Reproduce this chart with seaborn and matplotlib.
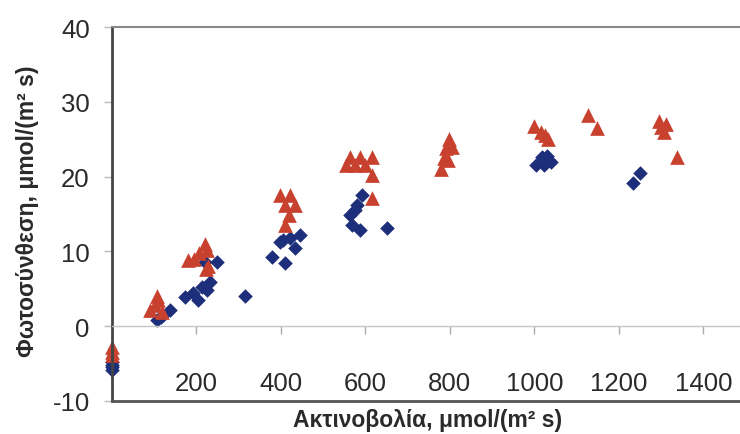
import matplotlib
matplotlib.use('Agg')
import pandas as pd
import matplotlib.pyplot as plt
import seaborn as sns

# Δεδομένα (διαβασμένα από το γράφημα)
blue_x = [0, 0, 0, 0,
          107, 121, 137, 115,
          173, 192, 204, 213, 232, 225, 220, 248,
          315,
          379, 410, 398, 421, 445, 433, 405,
          563, 568, 580, 592, 587, 575,
          651,
          1005, 1018, 1030, 1040, 1022,
          1233, 1250]
blue_y = [-4.8, -5.4, -5.9, -5.2,
          0.8, 1.5, 2.1, 1.2,
          3.9, 4.5, 3.5, 5.3, 5.9, 4.8, 8.6, 8.6,
          4.1,
          9.2, 8.5, 11.2, 11.8, 12.2, 10.4, 11.5,
          14.8, 13.5, 16.2, 17.5, 12.8, 15.5,
          13.1,
          21.5, 22.6, 22.8, 22.0, 21.6,
          19.2, 20.5]

red_x = [0, 0, 0,
         107, 102, 90, 118, 110,
         180, 195, 205, 220, 225, 228, 222,
         398, 421, 410, 433, 418, 410,
         563, 587, 616, 555, 575, 600, 616, 616,
         780, 785, 790, 798, 805, 795,
         1000, 1015, 1025, 1032,
         1127, 1148,
         1295, 1300, 1308, 1312, 1337]
red_y = [-2.8, -3.4, -3.9,
         4.1, 2.8, 2.1, 1.9, 3.5,
         8.8, 9.0, 9.8, 11.0, 10.2, 8.0, 7.6,
         17.5, 17.5, 16.2, 16.2, 14.8, 13.5,
         22.6, 22.6, 22.6, 21.5, 21.5, 21.5, 20.2, 17.1,
         21.0, 22.5, 23.8, 25.0, 24.0, 22.2,
         26.8, 26.0, 25.6, 25.0,
         28.2, 26.5,
         27.5, 26.6, 26.0, 27.0, 22.6]

x_ticks = [200, 400, 600, 800, 1000, 1200, 1400]
y_ticks = [-10, 0, 10, 20, 30, 40]

blue = pd.DataFrame({'x': blue_x, 'y': blue_y})
red = pd.DataFrame({'x': red_x, 'y': red_y})

sns.set_style('white')
plt.rcParams['font.family'] = ['Liberation Sans', 'DejaVu Sans']
plt.rcParams['axes.unicode_minus'] = False

fig = plt.figure(figsize=(7.4, 4.35), dpi=100)
ax = fig.add_axes([112 / 740, 33 / 435, 628 / 740, 374 / 435])

sns.scatterplot(data=blue, x='x', y='y', marker='D', s=55, color='#1d2f7a',
                linewidth=0, clip_on=False, ax=ax, zorder=2)
sns.scatterplot(data=red, x='x', y='y', marker='^', s=112, color='#c8412f',
                linewidth=0, clip_on=False, ax=ax, zorder=2)

ax.set_xlim(0, 1487)
ax.set_ylim(-10, 40)
ax.set_xticks(x_ticks)
ax.set_yticks(y_ticks)
ax.set_xlabel('')
ax.set_ylabel('')

# άξονας x περνά από το 0
ax.spines['bottom'].set_position(('data', 0))
ax.spines['bottom'].set_color('#c4c4c4')
ax.spines['bottom'].set_linewidth(1)
ax.spines['right'].set_visible(False)
ax.spines['top'].set_color('#888888')
ax.spines['top'].set_linewidth(1.5)
ax.spines['left'].set_color('#444444')
ax.spines['left'].set_linewidth(2)
ax.axhline(-10, color='#555555', lw=2, clip_on=False, zorder=3)

ax.tick_params(axis='x', direction='out', length=6, width=1, color='#aaaaaa',
               pad=26, labelsize=18.5, labelcolor='#2a2a2a')
ax.tick_params(axis='y', direction='out', length=6, width=1, color='#bbbbbb',
               pad=10, labelsize=18.5, labelcolor='#2a2a2a')
ax.tick_params(left=True, bottom=True)

fig.text(428 / 740, 1 - 421 / 435, 'Ακτινοβολία, μmol/(m² s)', ha='center',
         va='center', fontsize=16.5, fontweight='bold', color='#2a2a2a')
fig.text(28 / 740, 1 - 211 / 435, 'Φωτοσύνθεση, μmol/(m² s)', ha='center',
         va='center', rotation=90, fontsize=16.5, fontweight='bold', color='#2a2a2a')

fig.savefig('out.png', dpi=100)
